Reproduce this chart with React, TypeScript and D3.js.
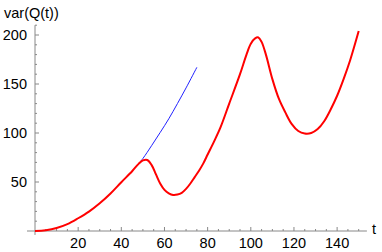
import React from 'react';
import * as d3 from 'd3';

// red: full simulated variance
const redT = [0, 5, 10, 15, 20, 25, 30, 35, 40, 45, 48, 50, 52, 54, 56, 58, 60, 62, 64, 66, 68, 70, 72, 74, 76, 78, 80, 83, 86, 90, 95, 98, 100, 102, 103.5, 105, 107, 110, 113, 116, 119, 122, 125, 128, 131, 134, 137, 140, 143, 146, 150];
const redV = [0, 0.8, 3, 7, 13, 19.8, 28.3, 38.3, 49.8, 61, 68.5, 72, 72.5, 67.5, 58, 48.5, 42, 38.5, 36.8, 37.2, 39, 43, 48.5, 55, 61.5, 69, 78, 91.5, 106, 130, 160, 180, 191, 196.5, 197.5, 193, 180, 155, 135, 121, 109, 102, 99.5, 100, 104, 112, 124, 138, 155, 174, 204];

// blue: continuation without the correction
const blueT = [47, 50, 54, 58, 62, 66, 70, 75];
const blueV = [66, 74, 87, 100.5, 114.5, 130, 146, 167];

const yTicks = [50, 100, 150, 200];
const xTicks = [20, 40, 60, 80, 100, 120, 140];

const W = 382;
const H = 252;

export default function App() {
  const x = d3.scaleLinear().domain([0, 150]).range([35, 358.7]);
  const y = d3.scaleLinear().domain([0, 200]).range([231, 35]);

  const line = d3
    .line<[number, number]>()
    .x((d) => x(d[0]))
    .y((d) => y(d[1]))
    .curve(d3.curveCatmullRom.alpha(0.5));

  const red = redT.map((t, i) => [t, redV[i]] as [number, number]);
  const blue = blueT.map((t, i) => [t, blueV[i]] as [number, number]);

  const xMinor = d3.range(5, 155, 5).filter((v) => v % 20 !== 0);
  const yMinor = d3.range(10, 215, 10).filter((v) => v % 50 !== 0);
  const axisColor = '#888';
  const font = '"Liberation Sans", Arial, sans-serif';

  return (
    <svg
      width={W}
      height={H}
      style={{ position: 'absolute', left: 0, top: 0, background: '#fff' }}
      fontFamily={font}
    >
      {/* axes */}
      <line x1={x(-3.7)} x2={x(153.8)} y1={y(0)} y2={y(0)} stroke={axisColor} strokeWidth={1} />
      <line x1={x(0)} x2={x(0)} y1={y(-4)} y2={y(210)} stroke={axisColor} strokeWidth={1} />

      {xTicks.map((t) => (
        <g key={'xt' + t}>
          <line x1={x(t)} x2={x(t)} y1={y(0)} y2={y(0) - 4} stroke={axisColor} />
          <text x={x(t)} y={248} textAnchor="middle" fontSize={14.5} fill="#000">
            {t}
          </text>
        </g>
      ))}
      {xMinor.map((t) => (
        <line key={'xm' + t} x1={x(t)} x2={x(t)} y1={y(0)} y2={y(0) - 2} stroke={axisColor} />
      ))}

      {yTicks.map((v) => (
        <g key={'yt' + v}>
          <line x1={x(0)} x2={x(0) + 4} y1={y(v)} y2={y(v)} stroke={axisColor} />
          <text x={27} y={y(v) + 5} textAnchor="end" fontSize={14.5} fill="#000">
            {v}
          </text>
        </g>
      ))}
      {yMinor.map((v) => (
        <line key={'ym' + v} x1={x(0)} x2={x(0) + 2} y1={y(v)} y2={y(v)} stroke={axisColor} />
      ))}

      <text x={4} y={18} fontSize={14.5} fill="#000">
        var(Q(t))
      </text>
      <text x={372} y={234} fontSize={14.5} fill="#000">
        t
      </text>

      <path d={line(blue) ?? ''} fill="none" stroke="#2222ff" strokeWidth={1} />
      <path d={line(red) ?? ''} fill="none" stroke="#ff0000" strokeWidth={2} strokeLinejoin="round" />
    </svg>
  );
}
